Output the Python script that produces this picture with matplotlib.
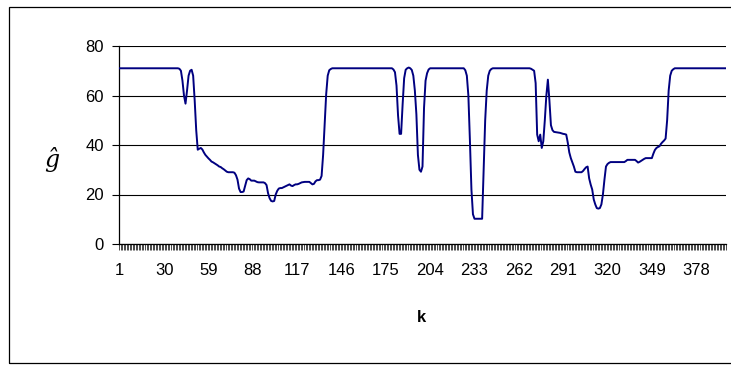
import matplotlib
matplotlib.use("Agg")
import matplotlib.pyplot as plt
from matplotlib.patches import Rectangle
import numpy as np

# Series values, one per k = 1..396
seg_start = [71.0] * 39
seg_dip_1 = [70.8, 70.0, 66.0, 60.0, 56.7, 62.0, 68.0, 70.0, 70.4, 68.0,
             58.0, 46.0, 38.1, 38.5, 38.8, 38.2, 37.0, 36.0, 35.3, 34.6,
             34.0, 33.3, 33.0, 32.6, 32.2, 31.8, 31.3, 31.1, 30.6, 30.2,
             29.7, 29.2, 29.0, 29.0, 29.0, 29.0, 28.8, 27.8, 26.0, 22.4,
             21.0, 21.0, 21.2, 23.5, 25.8, 26.5, 26.2, 25.6, 25.6, 25.6,
             25.3, 25.0, 24.9, 24.9, 24.9, 24.9, 24.6, 23.8, 20.5, 18.5,
             17.4, 17.2, 17.4, 20.0, 21.5, 22.4, 22.6, 22.6, 22.9, 23.2,
             23.5, 23.8, 24.1, 23.6, 23.4, 23.8, 24.1, 24.1, 24.3, 24.6,
             24.9, 25.0, 25.1, 25.1, 25.1, 25.1, 24.6, 24.1, 24.3, 25.3,
             25.8, 25.8, 26.0, 27.5, 36.0, 48.0, 60.5, 68.0, 70.2, 70.7,
             71.0]
seg_flat_2 = [71.0] * 39
seg_dip_2 = [70.5, 69.4, 64.0, 52.0, 44.5, 44.5, 56.4, 67.0, 70.4, 71.0,
             71.3, 71.0, 70.3, 68.0, 62.0, 52.4, 36.0, 30.0, 29.2, 31.3,
             55.0, 66.0, 69.0, 70.5, 71.0]
seg_flat_3 = [71.0] * 22
seg_dip_3 = [70.2, 68.0, 60.0, 42.0, 22.0, 12.0, 10.2, 10.2, 10.2, 10.2,
             10.2, 10.2, 30.0, 50.0, 62.0, 68.0, 70.0, 70.7, 71.0]
seg_flat_4 = [71.0] * 24
seg_dip_4 = [70.8, 70.4, 70.0, 65.0, 44.2, 41.5, 44.2, 38.8, 41.5, 50.0,
             60.0, 66.4, 58.0, 48.0, 46.0, 45.3, 45.2, 45.1, 45.0, 44.9,
             44.7, 44.5, 44.4, 44.2, 41.0, 37.0, 34.7, 33.0, 31.3, 29.2,
             29.0, 29.0, 29.0, 29.0, 29.5, 30.3, 31.0, 31.3, 26.5, 24.0,
             22.0, 18.0, 16.0, 14.5, 14.3, 14.5, 16.0, 20.0, 26.0, 31.3,
             32.3, 32.8, 33.1, 33.1, 33.1, 33.1, 33.1, 33.1, 33.1, 33.1,
             33.1, 33.1, 33.5, 34.0, 34.0, 34.0, 34.0, 34.0, 34.0, 33.5,
             32.9, 33.2, 33.6, 34.0, 34.4, 34.7, 34.7, 34.7, 34.7, 34.7,
             36.5, 38.0, 38.8, 39.2, 39.5, 40.5, 41.2, 41.8, 42.6, 50.0,
             62.0, 68.0, 70.0, 70.6, 71.0]
seg_end = [71.0] * 33

g_hat = (seg_start + seg_dip_1 + seg_flat_2 + seg_dip_2 + seg_flat_3
         + seg_dip_3 + seg_flat_4 + seg_dip_4 + seg_end)
k = list(range(1, len(g_hat) + 1))
x_tick_labels = [1, 30, 59, 88, 117, 146, 175, 204, 233, 262, 291, 320, 349, 378]
y_ticks = [0, 20, 40, 60, 80]

plt.rcParams["font.family"] = ["Liberation Sans", "DejaVu Sans"]

fig = plt.figure(figsize=(7.31, 3.65), dpi=100)
fig.patch.set_facecolor("white")

# outer chart border (right edge cropped off in the reference)
fig.add_artist(Rectangle((9 / 731, 0.006), 1.2, 0.975, transform=fig.transFigure,
                         fill=False, edgecolor="black", linewidth=0.9))

ax = fig.add_axes([119 / 731, 1 - 244 / 365, 607 / 731, 198 / 365])
ax.plot(k, g_hat, color="#000080", linewidth=1.4, zorder=3)

n = len(g_hat)
ax.set_xlim(0.5, n + 0.5)
ax.set_ylim(0, 80)

ax.set_yticks(y_ticks)
ax.yaxis.grid(True, color="black", linewidth=0.8)
ax.set_axisbelow(True)

ax.set_xticks(x_tick_labels)
ax.set_xticklabels([str(v) for v in x_tick_labels])
ax.set_xticks(np.arange(0.5, n + 1, 1.0), minor=True)
ax.tick_params(axis="x", which="major", length=0, pad=14, labelsize=12)
ax.tick_params(axis="x", which="minor", length=4, width=0.5, color="black")
ax.tick_params(axis="y", which="major", length=5, width=0.8, pad=6, labelsize=12)

for side in ["top", "right"]:
    ax.spines[side].set_visible(False)
for side in ["left", "bottom"]:
    ax.spines[side].set_color("black")
    ax.spines[side].set_linewidth(0.9)

fig.text(52 / 731, 1 - 160 / 365, "ĝ", fontsize=17, family="DejaVu Serif",
         style="italic", ha="center", va="center")
fig.text(421 / 731, 1 - 318 / 365, "k", fontsize=12, fontweight="bold",
         ha="center", va="center")

fig.savefig("out.png", dpi=100, facecolor="white")
